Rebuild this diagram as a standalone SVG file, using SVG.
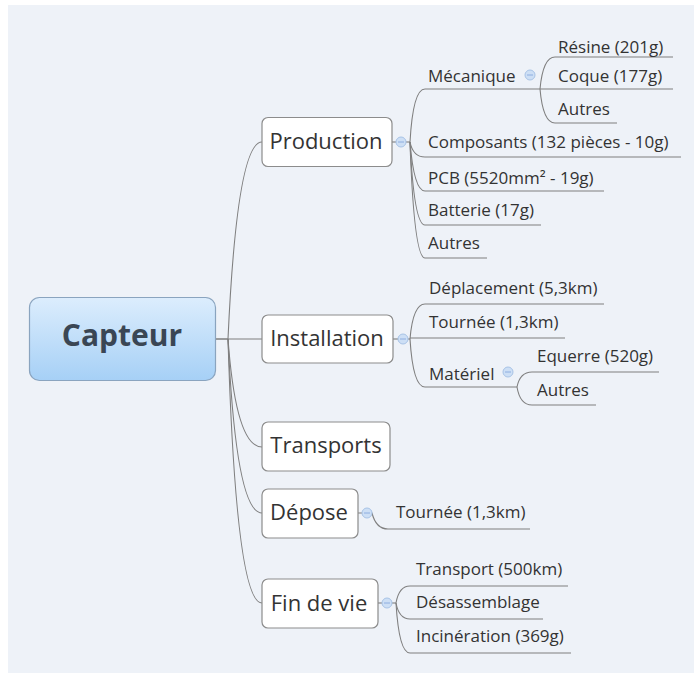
<svg xmlns="http://www.w3.org/2000/svg" width="694" height="673" viewBox="0 0 694 673">
<defs>
<linearGradient id="rootGrad" x1="0" y1="0" x2="0" y2="1">
<stop offset="0" stop-color="#dcedfd"/>
<stop offset="1" stop-color="#a6d0f6"/>
</linearGradient>
<style>
.bg{fill:#eef2f8}
.conn path,.conn line{fill:none;stroke:#7f7f7f;stroke-width:1.1}
.box{fill:#ffffff;stroke:#8c8c8c;stroke-width:1.2}
.root{fill:url(#rootGrad);stroke:#8aa4bf;stroke-width:1.2}
.main{font-family:"Open Sans","Noto Sans",sans-serif;font-size:22px;fill:#333333;text-anchor:middle}
.sub{font-family:"Open Sans","Noto Sans",sans-serif;font-size:17px;fill:#333333}
.rootText{font-family:"Open Sans","Noto Sans",sans-serif;font-size:30px;font-weight:bold;fill:#3a4654;text-anchor:middle}
.tog circle{fill:#cddff5;stroke:#a8c3e6;stroke-width:1}
.tog line{stroke:#8eaee0;stroke-width:1}
</style>
</defs>
<rect x="0" y="0" width="694" height="673" fill="#ffffff"/>
<rect class="bg" x="8" y="5" width="686" height="668"/>

<g id="connectors" class="conn">
<path d="M216,339 L228,339 Q237,142 262,142"/>
<line x1="216" y1="339" x2="262" y2="339"/>
<path d="M228,339 Q236,447 262,447"/>
<path d="M228,339 Q236,513 262,513"/>
<path d="M228,339 Q236,603 262,603"/>
<line x1="392" y1="142" x2="410" y2="142"/>
<path d="M410,142 Q413,89 425,89 L540,89"/>
<path d="M410,142 Q413,157 425,157 L681,157"/>
<path d="M410,142 Q414,191 425,191 L604,191"/>
<path d="M410,142 Q414,225 425,225 L541,225"/>
<path d="M410,142 Q414,258 425,258 L487,258"/>
<path d="M540,89 Q543,57 555,57 L673,57"/>
<line x1="540" y1="89" x2="673" y2="89"/>
<path d="M540,89 Q543,123 555,123 L617,123"/>
<line x1="393" y1="339" x2="410" y2="339"/>
<path d="M410,339 Q413,304 425,304 L604,304"/>
<line x1="410" y1="338" x2="565" y2="338"/>
<path d="M410,339 Q413,387 425,387 L517,387"/>
<path d="M517,387 Q520,372 532,372 L659,372"/>
<path d="M517,387 Q520,405 532,405 L596,405"/>
<path d="M358,513 L372,513 Q376,529 388,529 L530,529"/>
<line x1="378" y1="603" x2="396" y2="603"/>
<path d="M396,603 Q399,586 410,586 L568,586"/>
<path d="M396,603 Q399,619 410,619 L543,619"/>
<path d="M396,603 Q399,653 410,653 L571,653"/>
</g>

<g id="node-capteur">
<rect class="root" x="29.5" y="297.5" width="186" height="83" rx="10"/>
<text class="rootText" x="122" y="346">Capteur</text>
</g>

<g id="node-production">
<rect class="box" x="262" y="117.5" width="130" height="49" rx="6"/>
<text class="main" x="326" y="149">Production</text>
<g class="tog"><circle cx="401" cy="142" r="5"/><line x1="398" y1="142" x2="404" y2="142"/></g>
</g>

<g id="node-installation">
<rect class="box" x="262" y="315" width="131" height="48" rx="6"/>
<text class="main" x="327" y="346">Installation</text>
<g class="tog"><circle cx="403" cy="339" r="5"/><line x1="400" y1="339" x2="406" y2="339"/></g>
</g>

<g id="node-transports">
<rect class="box" x="262" y="422" width="128" height="49" rx="6"/>
<text class="main" x="326" y="453">Transports</text>
</g>

<g id="node-depose">
<rect class="box" x="262" y="489" width="96" height="49" rx="6"/>
<text class="main" x="309" y="520">Dépose</text>
<g class="tog"><circle cx="367" cy="513" r="5"/><line x1="364" y1="513" x2="370" y2="513"/></g>
</g>

<g id="node-findevie">
<rect class="box" x="262" y="579" width="116" height="49" rx="6"/>
<text class="main" x="319" y="611">Fin de vie</text>
<g class="tog"><circle cx="387" cy="603" r="5"/><line x1="384" y1="603" x2="390" y2="603"/></g>
</g>

<g id="node-mecanique">
<text class="sub" x="428" y="82">Mécanique</text>
<g class="tog"><circle cx="530" cy="75" r="5"/><line x1="527" y1="75" x2="533" y2="75"/></g>
</g>
<g id="node-resine"><text class="sub" x="558" y="53">Résine (201g)</text></g>
<g id="node-coque"><text class="sub" x="558" y="82">Coque (177g)</text></g>
<g id="node-autres-meca"><text class="sub" x="558" y="115">Autres</text></g>
<g id="node-composants"><text class="sub" x="428" y="148">Composants (132 pièces - 10g)</text></g>
<g id="node-pcb"><text class="sub" x="428" y="184">PCB (5520mm² - 19g)</text></g>
<g id="node-batterie"><text class="sub" x="428" y="216">Batterie (17g)</text></g>
<g id="node-autres-prod"><text class="sub" x="428" y="249">Autres</text></g>

<g id="node-deplacement"><text class="sub" x="429" y="294">Déplacement (5,3km)</text></g>
<g id="node-tournee-inst"><text class="sub" x="429" y="328">Tournée (1,3km)</text></g>
<g id="node-materiel">
<text class="sub" x="429" y="380">Matériel</text>
<g class="tog"><circle cx="508" cy="372" r="5"/><line x1="505" y1="372" x2="511" y2="372"/></g>
</g>
<g id="node-equerre"><text class="sub" x="537" y="362">Equerre (520g)</text></g>
<g id="node-autres-mat"><text class="sub" x="537" y="396">Autres</text></g>

<g id="node-tournee-depose"><text class="sub" x="396" y="518">Tournée (1,3km)</text></g>

<g id="node-transport"><text class="sub" x="416" y="575">Transport (500km)</text></g>
<g id="node-desassemblage"><text class="sub" x="416" y="608">Désassemblage</text></g>
<g id="node-incineration"><text class="sub" x="416" y="642">Incinération (369g)</text></g>
</svg>
